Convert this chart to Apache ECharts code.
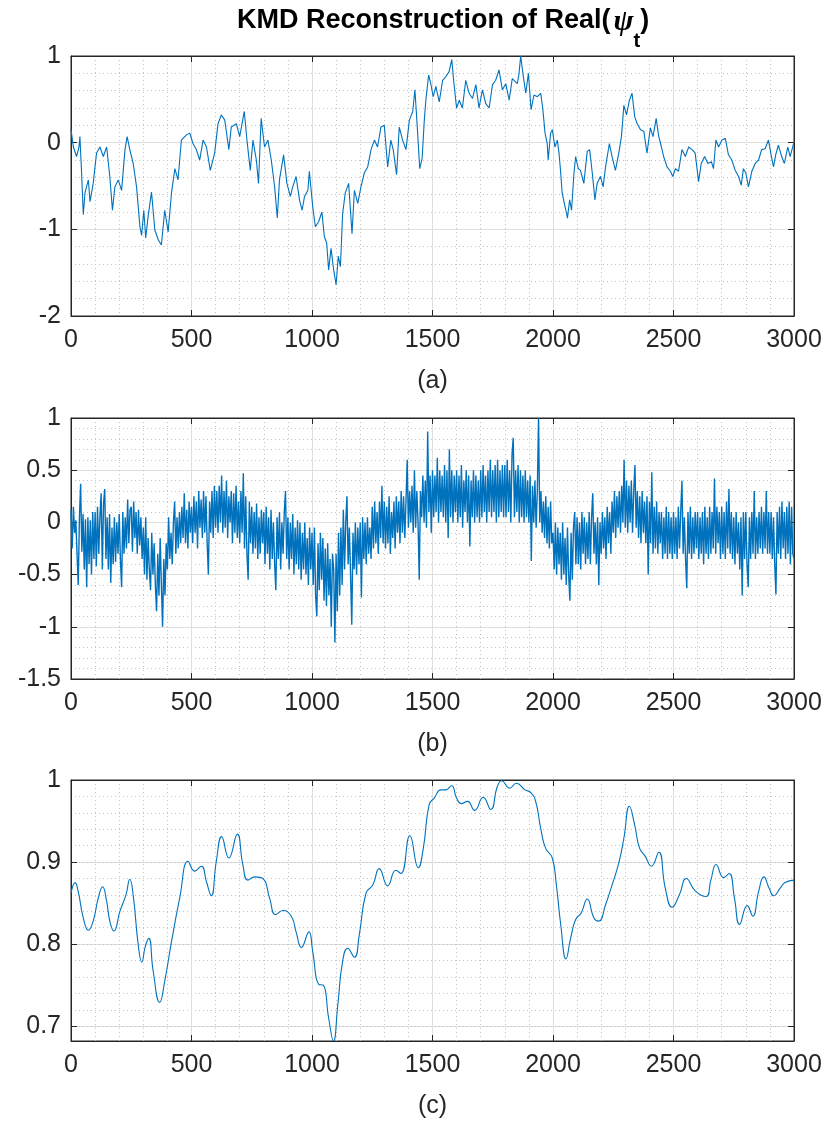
<!DOCTYPE html>
<html>
<head>
<meta charset="utf-8">
<title>KMD Reconstruction of Real(ψt)</title>
<script src="https://cdn.jsdelivr.net/npm/echarts@6/dist/echarts.min.js"></script>
<style>
  html, body { margin: 0; padding: 0; background: #ffffff; }
  #chart { width: 827px; height: 1121px; }
</style>
</head>
<body>
<div id="chart"></div>
<script>
// ---- (a) reconstructed signal: sample index / value
const aIdx = [0,10,23,33,37,44,51,58,72,79,92,106,120,134,148,161,172,182,196,210,224,233,244,258,272,286,293,302,310,320,334,348,362,375,389,403,417,431,444,458,479,493,506,520,534,548,562,578,596,610,624,638,655,665,686,700,719,730,744,755,769,778,789,803,817,831,845,856,865,882,896,910,920,934,948,959,969,983,989,1003,1014,1028,1041,1051,1061,1069,1079,1090,1100,1109,1118,1127,1138,1152,1166,1176,1190,1203,1217,1231,1245,1259,1272,1286,1300,1314,1327,1337,1351,1362,1376,1390,1404,1418,1427,1436,1447,1457,1466,1473,1484,1493,1503,1514,1528,1542,1555,1569,1580,1589,1600,1611,1624,1638,1652,1666,1680,1693,1707,1721,1735,1749,1762,1776,1790,1804,1818,1831,1852,1859,1866,1876,1887,1898,1909,1921,1935,1949,1958,1967,1976,1980,1990,1997,2008,2018,2025,2032,2038,2047,2055,2060,2069,2077,2087,2094,2105,2114,2128,2142,2152,2163,2174,2183,2197,2208,2218,2234,2245,2259,2273,2284,2294,2305,2317,2328,2339,2349,2363,2377,2390,2404,2415,2428,2439,2450,2459,2473,2487,2497,2508,2521,2535,2549,2563,2577,2590,2604,2615,2629,2643,2657,2666,2676,2687,2701,2715,2728,2742,2756,2770,2781,2790,2800,2811,2825,2839,2853,2866,2880,2894,2905,2915,2924,2935,2949,2960,2974,2984,3000];
const aVal = [0.15,-0.05,-0.16,-0.05,0.07,-0.35,-0.83,-0.58,-0.43,-0.68,-0.47,-0.12,-0.05,-0.16,-0.05,-0.39,-0.78,-0.51,-0.43,-0.55,-0.08,0.07,-0.08,-0.24,-0.51,-0.97,-1.07,-0.78,-1.1,-0.85,-0.57,-1.01,-1.12,-1.18,-0.78,-1.03,-0.58,-0.3,-0.43,0.03,0.09,0.11,-0.01,-0.08,-0.2,0.03,-0.05,-0.32,-0.12,0.22,0.32,0.26,-0.08,0.18,0.22,0.07,0.36,0.03,-0.32,0.03,-0.2,-0.47,0.28,-0.05,0.03,-0.2,-0.51,-0.87,-0.43,-0.14,-0.47,-0.62,-0.51,-0.39,-0.66,-0.78,-0.62,-0.55,-0.33,-0.74,-0.97,-0.91,-0.8,-1.08,-1.16,-1.47,-1.22,-1.47,-1.64,-1.31,-1.43,-0.82,-0.58,-0.47,-1.05,-0.55,-0.7,-0.51,-0.35,-0.28,-0.08,0.03,-0.05,0.18,0.2,-0.28,0.03,-0.08,-0.37,0.18,0.03,-0.08,0.26,0.36,0.61,0.22,-0.3,-0.18,0.26,0.51,0.78,0.68,0.53,0.65,0.47,0.72,0.76,0.82,0.96,0.68,0.4,0.49,0.4,0.72,0.57,0.51,0.67,0.4,0.61,0.45,0.4,0.67,0.72,0.84,0.61,0.68,0.49,0.74,0.68,0.8,1.0,0.78,0.57,0.8,0.38,0.55,0.53,0.57,0.38,0.11,-0.01,-0.2,0.11,0.15,-0.05,0.03,-0.12,-0.35,-0.58,-0.7,-0.8,-0.87,-0.66,-0.78,-0.35,-0.16,-0.3,-0.32,-0.47,-0.1,-0.08,-0.35,-0.66,-0.47,-0.39,-0.51,-0.28,-0.01,-0.16,-0.32,-0.12,0.07,0.43,0.32,0.49,0.57,0.3,0.22,0.15,0.13,-0.12,0.17,0.07,0.28,0.07,-0.05,-0.16,-0.28,-0.33,-0.39,-0.3,-0.33,-0.08,-0.16,-0.05,-0.08,-0.12,-0.45,-0.24,-0.16,-0.24,-0.22,-0.3,0.03,-0.05,0.03,0.05,-0.14,-0.2,-0.32,-0.39,-0.49,-0.3,-0.35,-0.51,-0.33,-0.24,-0.2,-0.08,-0.07,0.03,-0.14,-0.28,-0.14,-0.03,-0.16,-0.24,-0.05,-0.16,0.01];

// ---- (b) noisy component, one value every bStep samples
const bStep = 5;
const bVal = [
  0.12,-0.25,0.15,-0.1,0.02,-0.3,-0.6,0.05,0.37,-0.28,0.08,-0.45,0.03,-0.62,0.05,-0.4,0.02,-0.5,0.1,-0.35,
  0.1,-0.42,0.15,-0.3,0.05,0.28,-0.45,0.18,0.32,-0.35,0.05,-0.45,0.08,-0.58,-0.05,-0.4,0.05,-0.38,0.0,-0.3,
  0.08,-0.35,-0.62,0.1,-0.3,0.05,-0.25,0.22,-0.2,0.12,0.15,-0.28,0.2,-0.15,0.1,-0.3,0.12,-0.22,0.05,-0.35,
  -0.05,-0.5,0.05,-0.55,-0.15,-0.45,-0.65,-0.1,-0.5,-0.2,-0.6,-0.85,-0.3,-0.7,-0.15,-0.6,-1.0,-0.35,-0.7,-0.2,
  -0.45,0.05,-0.35,-0.1,-0.4,0.0,0.2,-0.3,0.05,-0.25,0.1,-0.2,0.15,-0.15,0.28,-0.2,0.12,-0.25,0.2,-0.1,
  0.15,-0.2,0.25,-0.1,0.2,-0.25,0.3,-0.05,0.22,-0.15,0.3,-0.1,0.25,-0.2,-0.5,0.2,-0.1,0.3,-0.15,0.35,
  -0.05,0.3,-0.1,0.35,0.0,0.45,-0.1,0.3,-0.05,0.4,-0.15,0.25,0.0,0.3,-0.2,0.28,-0.1,0.35,-0.15,0.2,
  -0.2,0.3,-0.1,0.47,-0.25,0.25,-0.3,-0.55,0.2,-0.2,0.15,-0.3,0.1,-0.25,0.18,-0.35,0.05,-0.3,0.12,-0.2,
  0.1,-0.4,0.15,-0.3,0.05,-0.45,0.12,-0.35,0.0,-0.4,-0.65,0.05,-0.35,0.1,-0.45,0.0,-0.3,0.1,0.3,-0.35,
  0.05,-0.45,0.0,-0.35,0.08,-0.5,-0.05,-0.4,0.02,-0.45,0.0,-0.55,-0.1,-0.45,0.0,-0.5,-0.15,-0.6,-0.05,-0.45,
  -0.1,-0.6,-0.05,-0.7,-0.9,-0.2,-0.65,-0.1,-0.55,-0.15,-0.75,-0.25,-0.8,-0.2,-0.7,-0.35,-1.0,-0.3,-0.45,-1.15,
  -0.3,-0.85,-0.1,-0.7,-0.05,-0.6,0.12,-0.45,0.0,0.25,-0.4,-0.05,-0.5,-0.98,-0.1,-0.45,0.0,-0.5,-0.05,-0.4,
  0.0,-0.72,0.05,-0.35,0.0,-0.4,0.05,-0.3,-0.05,-0.35,0.15,-0.25,0.2,-0.2,0.1,-0.3,0.2,-0.15,0.35,-0.2,
  0.2,-0.25,0.15,-0.2,0.25,-0.3,0.1,-0.15,0.2,-0.25,0.25,-0.1,0.2,-0.2,0.3,-0.1,0.25,-0.15,0.2,0.6,
  -0.05,0.3,0.0,0.35,-0.1,0.5,-0.05,0.3,0.0,-0.55,0.3,0.05,0.45,0.0,0.4,-0.05,0.87,0.1,0.45,-0.1,
  0.5,0.05,0.45,0.1,0.62,0.0,0.5,0.1,0.45,0.05,0.55,0.0,0.5,-0.15,0.7,0.05,0.5,0.0,0.45,0.1,
  0.5,0.0,0.45,0.05,0.55,-0.05,0.4,0.1,0.5,0.0,0.45,-0.23,0.4,0.05,0.5,0.0,0.45,0.05,0.4,0.0,
  0.5,0.05,0.55,0.1,0.45,0.0,0.5,0.1,0.6,0.05,0.5,0.1,0.55,0.0,0.6,0.05,0.5,0.1,0.55,0.05,
  0.55,0.05,0.6,0.1,0.5,0.0,0.65,0.81,0.05,0.5,0.1,0.55,0.0,0.5,0.05,0.45,0.0,0.5,0.05,0.4,
  0.0,0.45,-0.37,0.35,0.0,0.4,-0.05,0.3,1.0,0.0,0.3,-0.1,0.2,-0.15,0.25,-0.2,0.15,-0.25,0.2,-0.2,
  -0.1,-0.45,0.0,-0.5,-0.05,-0.4,-0.1,-0.55,0.0,-0.5,-0.15,-0.6,-0.05,-0.5,-0.75,-0.1,-0.55,-0.05,0.1,-0.4,
  0.05,-0.4,0.0,-0.45,0.1,-0.3,0.05,-0.4,0.0,-0.35,0.1,-0.4,0.05,0.28,-0.3,0.0,-0.4,0.05,-0.6,0.0,
  -0.3,0.1,-0.25,0.05,-0.35,0.15,-0.2,0.1,-0.3,0.2,-0.1,0.3,-0.15,0.25,-0.05,0.3,-0.1,0.35,0.0,0.6,
  -0.05,0.4,-0.1,0.35,0.0,0.4,-0.1,0.3,0.55,-0.05,0.3,-0.15,0.25,-0.2,0.3,-0.1,0.2,-0.2,0.25,-0.5,
  0.2,-0.2,0.48,-0.3,0.15,-0.25,0.2,-0.3,0.1,-0.2,0.1,-0.35,0.05,-0.3,0.15,-0.35,0.1,-0.3,0.05,-0.35,
  0.1,-0.3,0.05,-0.35,0.15,-0.25,0.1,0.4,-0.3,0.05,-0.35,-0.63,0.1,-0.3,0.15,-0.35,0.05,-0.3,0.1,-0.25,
  0.1,-0.35,0.05,-0.3,0.1,-0.4,0.15,-0.3,0.05,-0.35,0.15,-0.3,0.1,-0.25,0.42,-0.3,0.15,-0.2,0.1,-0.35,
  0.15,-0.3,0.1,-0.35,0.2,-0.25,0.32,-0.3,0.1,-0.35,0.05,-0.4,0.1,-0.3,0.0,-0.45,0.05,-0.7,0.1,-0.35,
  0.1,-0.4,-0.62,0.05,-0.35,0.1,-0.3,0.3,-0.35,0.05,-0.3,0.1,-0.25,0.15,-0.3,0.1,-0.25,0.3,-0.3,0.1,
  -0.3,0.1,-0.35,0.05,-0.4,-0.69,0.1,-0.3,0.15,-0.35,0.2,-0.25,0.1,-0.35,0.15,-0.3,0.2,-0.4,0.15,-0.3,
  -0.35
];

// ---- (c) smooth envelope: sample index / value
const cIdx = [0,17,30,51,72,92,113,131,148,161,178,203,228,244,258,279,294,308,323,341,368,389,417,451,486,513,541,562,582,603,625,655,690,713,734,762,796,824,849,879,914,934,956,987,1003,1028,1047,1069,1089,1107,1127,1148,1176,1196,1224,1252,1279,1314,1348,1369,1406,1441,1462,1486,1507,1535,1555,1579,1600,1620,1645,1675,1710,1742,1769,1787,1820,1848,1884,1907,1928,1949,1969,1997,2014,2032,2054,2073,2094,2117,2142,2170,2190,2218,2245,2273,2294,2317,2339,2359,2383,2408,2439,2466,2494,2524,2553,2590,2635,2655,2677,2708,2731,2753,2774,2806,2829,2853,2875,2897,2916,2942,2963,3000];
const cVal = [0.862,0.875,0.864,0.832,0.817,0.828,0.856,0.870,0.852,0.828,0.816,0.840,0.860,0.879,0.860,0.799,0.778,0.797,0.807,0.767,0.729,0.755,0.803,0.856,0.901,0.889,0.895,0.876,0.859,0.901,0.931,0.905,0.934,0.897,0.878,0.882,0.880,0.856,0.836,0.841,0.834,0.815,0.796,0.815,0.791,0.751,0.750,0.710,0.682,0.726,0.779,0.795,0.784,0.811,0.862,0.872,0.892,0.871,0.890,0.886,0.932,0.893,0.917,0.970,0.978,0.988,0.988,0.993,0.978,0.971,0.974,0.963,0.979,0.964,0.992,0.999,0.990,0.996,0.988,0.985,0.974,0.941,0.917,0.905,0.872,0.824,0.782,0.807,0.830,0.838,0.855,0.832,0.828,0.848,0.872,0.899,0.929,0.968,0.945,0.917,0.907,0.895,0.912,0.868,0.845,0.860,0.880,0.865,0.858,0.878,0.897,0.881,0.886,0.856,0.824,0.847,0.834,0.864,0.882,0.868,0.859,0.868,0.875,0.878];

// ---- axis ranges and tick labels
const xRange = [0, 3000];
const xStep = 500;
const aRange = [-2, 1];
const aStep = 1;
const bRange = [-1.5, 1];
const bStep2 = 0.5;
const cRange = [0.682, 1];
const cMajor = [0.7, 0.8, 0.9, 1];
const cMinor = [0.7, 0.72, 0.74, 0.76, 0.78, 0.8, 0.82, 0.84, 0.86, 0.88, 0.9, 0.92, 0.94, 0.96, 0.98, 1];
const panelNames = ['(a)', '(b)', '(c)'];

const FONT = 'Liberation Sans';
const INK = '#262626';
const MAJOR = '#dedede';
const MINOR = '#c2c2c2';
const BLUE = '#0072BD';
const LABEL = { fontFamily: FONT, fontSize: 25, color: INK };
const TICK = { show: true, inside: true, length: 6, lineStyle: { color: INK, width: 1 } };
const LINE = { show: true, onZero: false, lineStyle: { color: INK, width: 1 } };
const MINOR_LINE = { show: true, lineStyle: { color: MINOR, width: 1, type: [1, 3] } };
const plain = v => String(+v.toFixed(2));

const grids = [
  { left: 71, top: 56, width: 723, height: 260 },
  { left: 71, top: 418, width: 723, height: 261 },
  { left: 71, top: 780, width: 723, height: 261 }
].map(g => Object.assign({ show: true, borderColor: INK, borderWidth: 1, backgroundColor: '#fff' }, g));

const xAxes = [];
[0, 1, 2].forEach(gi => {
  xAxes.push({
    type: 'value', gridIndex: gi, position: 'bottom', min: xRange[0], max: xRange[1], interval: xStep,
    name: panelNames[gi], nameLocation: 'middle', nameGap: 53, nameTextStyle: LABEL,
    axisLine: LINE, axisTick: TICK,
    axisLabel: Object.assign({ margin: 12, formatter: plain }, LABEL),
    splitLine: { show: true, lineStyle: { color: MAJOR, width: 1 } },
    minorTick: { show: false, splitNumber: 5 }, minorSplitLine: MINOR_LINE
  });
  xAxes.push({
    type: 'value', gridIndex: gi, position: 'top', min: xRange[0], max: xRange[1], interval: xStep,
    axisLine: LINE, axisTick: TICK, axisLabel: { show: false }, splitLine: { show: false }
  });
});

function yPair(gi, range, step) {
  return [
    {
      type: 'value', gridIndex: gi, position: 'left', min: range[0], max: range[1], interval: step,
      axisLine: LINE, axisTick: TICK,
      axisLabel: Object.assign({ margin: 10, formatter: plain }, LABEL),
      splitLine: { show: true, lineStyle: { color: MAJOR, width: 1 } },
      minorTick: { show: false, splitNumber: 5 }, minorSplitLine: MINOR_LINE
    },
    {
      type: 'value', gridIndex: gi, position: 'right', min: range[0], max: range[1], interval: step,
      axisLine: LINE, axisTick: TICK, axisLabel: { show: false }, splitLine: { show: false }
    }
  ];
}

const yAxes = [].concat(
  yPair(0, aRange, aStep),
  yPair(1, bRange, bStep2),
  [
    {
      type: 'value', gridIndex: 2, position: 'left', min: cRange[0], max: cRange[1],
      axisLine: LINE,
      axisTick: Object.assign({ customValues: cMajor }, TICK),
      axisLabel: Object.assign({ margin: 10, customValues: cMajor, formatter: plain }, LABEL),
      splitLine: { show: true, lineStyle: { color: MAJOR, width: 1 } }
    },
    {
      type: 'value', gridIndex: 2, position: 'right', min: cRange[0], max: cRange[1],
      axisLine: LINE,
      axisTick: Object.assign({ customValues: cMajor }, TICK),
      axisLabel: { show: false, customValues: cMajor }, splitLine: { show: false }
    },
    {
      // dotted minor grid for panel (c)
      type: 'value', gridIndex: 2, position: 'left', min: cRange[0], max: cRange[1],
      axisLine: { show: false },
      axisTick: { show: false, customValues: cMinor },
      axisLabel: { show: false, customValues: cMinor },
      splitLine: MINOR_LINE
    }
  ]
);

const lineSeries = (xi, yi, data, width, extra) => Object.assign({
  type: 'line', xAxisIndex: xi, yAxisIndex: yi, data,
  showSymbol: false, symbol: 'none', clip: true, z: 5,
  lineStyle: { color: BLUE, width }, itemStyle: { color: BLUE },
  emphasis: { disabled: true }, animation: false
}, extra || {});

const option = {
  animation: false,
  backgroundColor: '#ffffff',
  title: {
    text: '{m|KMD Reconstruction of Real(}{p|ψ}{s|t}{m|)}',
    left: 232, top: 2,
    textStyle: {
      rich: {
        m: { fontFamily: FONT, fontWeight: 'bold', fontSize: 27, color: '#000', lineHeight: 36, verticalAlign: 'top' },
        p: { fontFamily: 'Liberation Serif', fontStyle: 'italic', fontSize: 30, color: '#000', lineHeight: 36, verticalAlign: 'top', padding: [0, 0, 0, 3] },
        s: { fontFamily: FONT, fontWeight: 'bold', fontSize: 20, color: '#000', lineHeight: 36, verticalAlign: 'top', padding: [24, 0, 0, 0] }
      }
    }
  },
  grid: grids,
  xAxis: xAxes,
  yAxis: yAxes,
  series: [
    lineSeries(0, 0, aIdx.map((x, i) => [x, aVal[i]]), 1.1),
    lineSeries(2, 2, bVal.map((v, i) => [i * bStep, v]), 1.4),
    lineSeries(4, 4, cIdx.map((x, i) => [x, cVal[i]]), 1.1, { smooth: 0.5 })
  ]
};

const chart = echarts.init(document.getElementById('chart'), null, { renderer: 'canvas' });
chart.setOption(option);
</script>
</body>
</html>
